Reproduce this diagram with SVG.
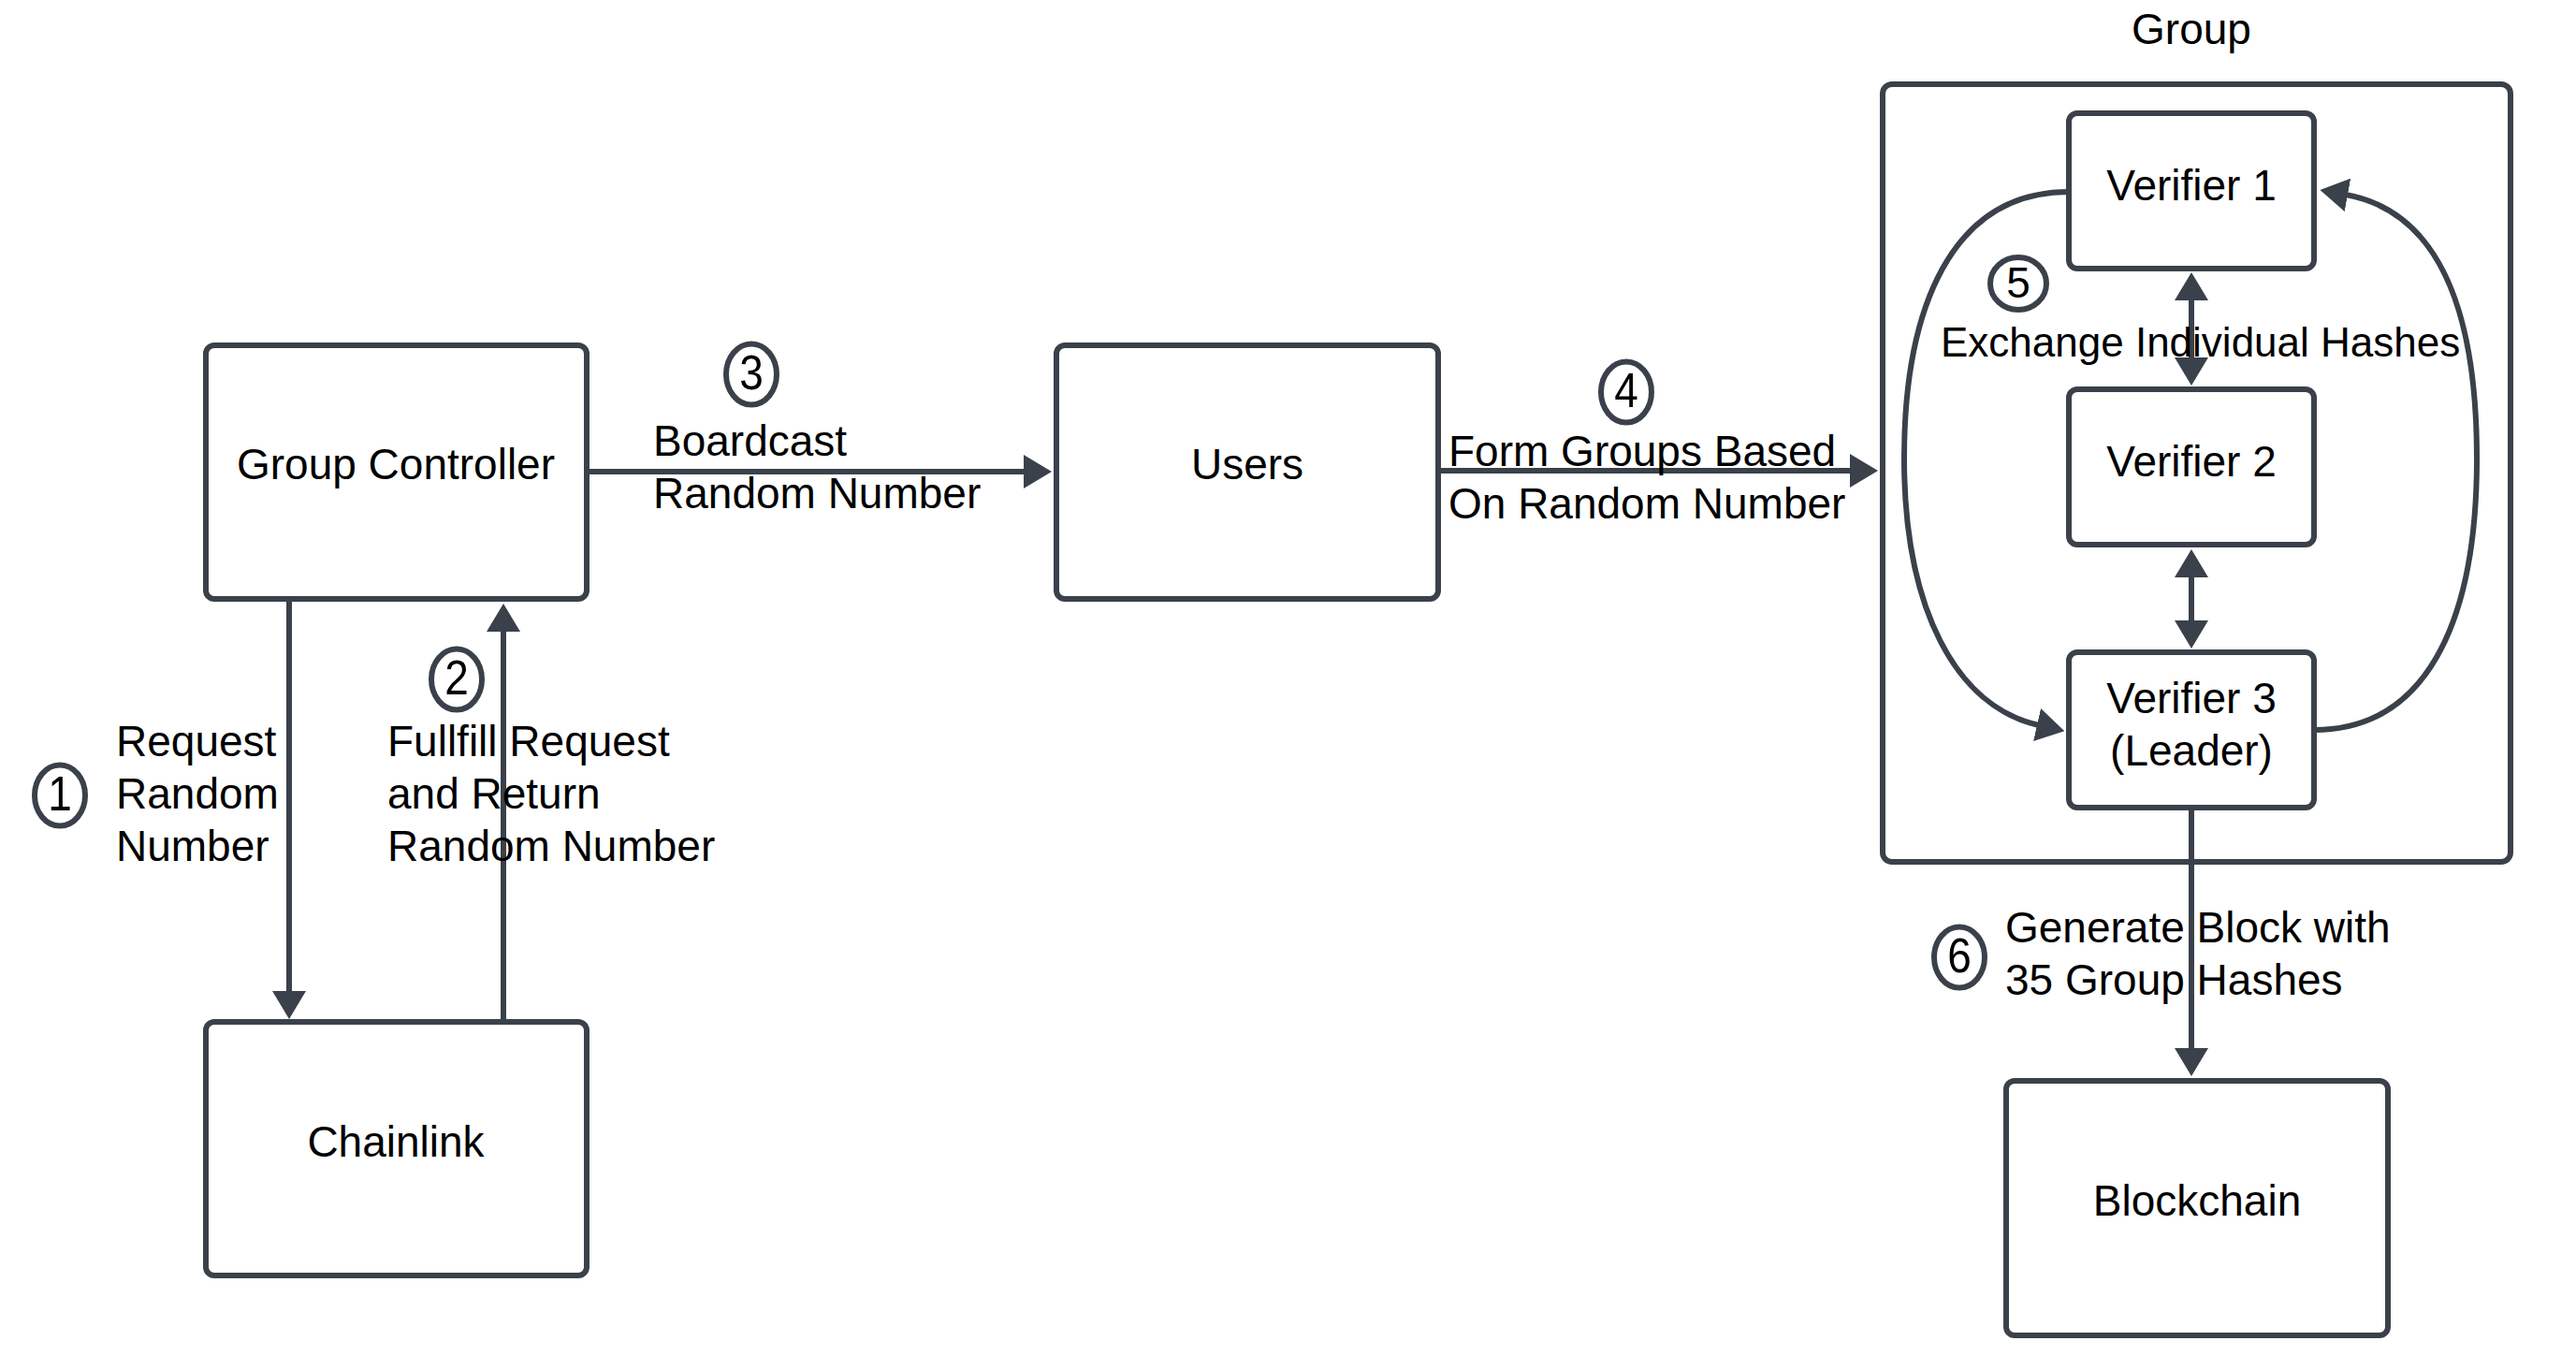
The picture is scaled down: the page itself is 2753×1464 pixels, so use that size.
<svg xmlns="http://www.w3.org/2000/svg" width="2753" height="1464" viewBox="0 0 2753 1464">
<style>
.box{fill:#ffffff;stroke:#3a414a;stroke-width:6}
.con{fill:none;stroke:#3a414a;stroke-width:6}
.t{font-family:"Liberation Sans",Arial,sans-serif;font-size:46px;fill:#000000}
.c{text-anchor:middle}
.num{font-family:"Liberation Sans",Arial,sans-serif;font-size:46px;fill:#000000;text-anchor:middle}
.circ{fill:#ffffff;stroke:#3a414a;stroke-width:6}
</style>
<defs>
<marker id="ah" markerUnits="userSpaceOnUse" markerWidth="30" markerHeight="36" refX="2" refY="18" orient="auto-start-reverse" viewBox="0 0 30 36">
<path d="M0,0 L30,18 L0,36 Z" fill="#3a414a"/>
</marker>
</defs>
<rect width="2753" height="1464" fill="#ffffff"/>

<g id="group-container">
<rect class="box" x="2012" y="90" width="671" height="831" rx="10"/>
<text class="t c" x="2342" y="47">Group</text>
</g>

<g id="connectors">
<line class="con" x1="309" y1="640" x2="309" y2="1061" marker-end="url(#ah)"/>
<line class="con" x1="538" y1="1092" x2="538" y2="673" marker-end="url(#ah)"/>
<line class="con" x1="627" y1="504" x2="1096" y2="504" marker-end="url(#ah)"/>
<line class="con" x1="1537" y1="503" x2="1979" y2="503" marker-end="url(#ah)"/>
<line class="con" x1="2342" y1="319" x2="2342" y2="384" marker-start="url(#ah)" marker-end="url(#ah)"/>
<line class="con" x1="2342" y1="615" x2="2342" y2="665" marker-start="url(#ah)" marker-end="url(#ah)"/>
<line class="con" x1="2342" y1="864" x2="2342" y2="1122" marker-end="url(#ah)"/>
<path class="con" d="M2211,205 C2085,205 2035,330 2035,490 C2035,650 2090,755 2179,775" marker-end="url(#ah)"/>
<path class="con" d="M2473,780 C2590,780 2647,670 2647,490 C2647,320 2600,225 2507,208" marker-end="url(#ah)"/>
</g>

<g id="group-controller">
<rect class="box" x="220" y="369" width="407" height="271" rx="9"/>
<text class="t c" x="423" y="512">Group Controller</text>
</g>

<g id="users">
<rect class="box" x="1129" y="369" width="408" height="271" rx="9"/>
<text class="t c" x="1333" y="512">Users</text>
</g>

<g id="chainlink">
<rect class="box" x="220" y="1092" width="407" height="271" rx="9"/>
<text class="t c" x="423" y="1236">Chainlink</text>
</g>

<g id="verifier1">
<rect class="box" x="2211" y="121" width="262" height="166" rx="9"/>
<text class="t c" x="2342" y="214">Verifier 1</text>
</g>

<g id="verifier2">
<rect class="box" x="2211" y="416" width="262" height="166" rx="9"/>
<text class="t c" x="2342" y="509">Verifier 2</text>
</g>

<g id="verifier3">
<rect class="box" x="2211" y="697" width="262" height="166" rx="9"/>
<text class="t c" x="2342" y="762">Verifier 3</text>
<text class="t c" x="2342" y="818">(Leader)</text>
</g>

<g id="blockchain">
<rect class="box" x="2144" y="1155" width="408" height="272" rx="9"/>
<text class="t c" x="2348" y="1299">Blockchain</text>
</g>

<g id="labels">
<text class="t" x="124" y="808">Request</text>
<text class="t" x="124" y="864">Random</text>
<text class="t" x="124" y="920">Number</text>
<text class="t" x="414" y="808">Fullfill Request</text>
<text class="t" x="414" y="864">and Return</text>
<text class="t" x="414" y="920">Random Number</text>
<text class="t" x="698" y="487">Boardcast</text>
<text class="t" x="698" y="543">Random Number</text>
<text class="t" x="1548" y="498">Form Groups Based</text>
<text class="t" x="1548" y="554">On Random Number</text>
<text class="t" x="2074" y="381" style="font-size:44px">Exchange Individual Hashes</text>
<text class="t" x="2143" y="1007">Generate Block with</text>
<text class="t" x="2143" y="1063">35 Group Hashes</text>
</g>

<g id="step-numbers">
<ellipse class="circ" cx="64" cy="850" rx="27" ry="32.5"/>
<text class="num" transform="translate(64,866) scale(1,1.12)">1</text>
<ellipse class="circ" cx="488" cy="726" rx="27" ry="32.5"/>
<text class="num" transform="translate(488,742) scale(1,1.12)">2</text>
<ellipse class="circ" cx="803" cy="400" rx="27" ry="32.5"/>
<text class="num" transform="translate(803,416) scale(1,1.12)">3</text>
<ellipse class="circ" cx="1738" cy="419" rx="27" ry="32.5"/>
<text class="num" transform="translate(1738,435) scale(1,1.12)">4</text>
<ellipse class="circ" cx="2157" cy="303" rx="30" ry="28"/>
<text class="num" transform="translate(2157,318)">5</text>
<ellipse class="circ" cx="2094" cy="1023" rx="27" ry="32.5"/>
<text class="num" transform="translate(2094,1039) scale(1,1.12)">6</text>
</g>
</svg>
